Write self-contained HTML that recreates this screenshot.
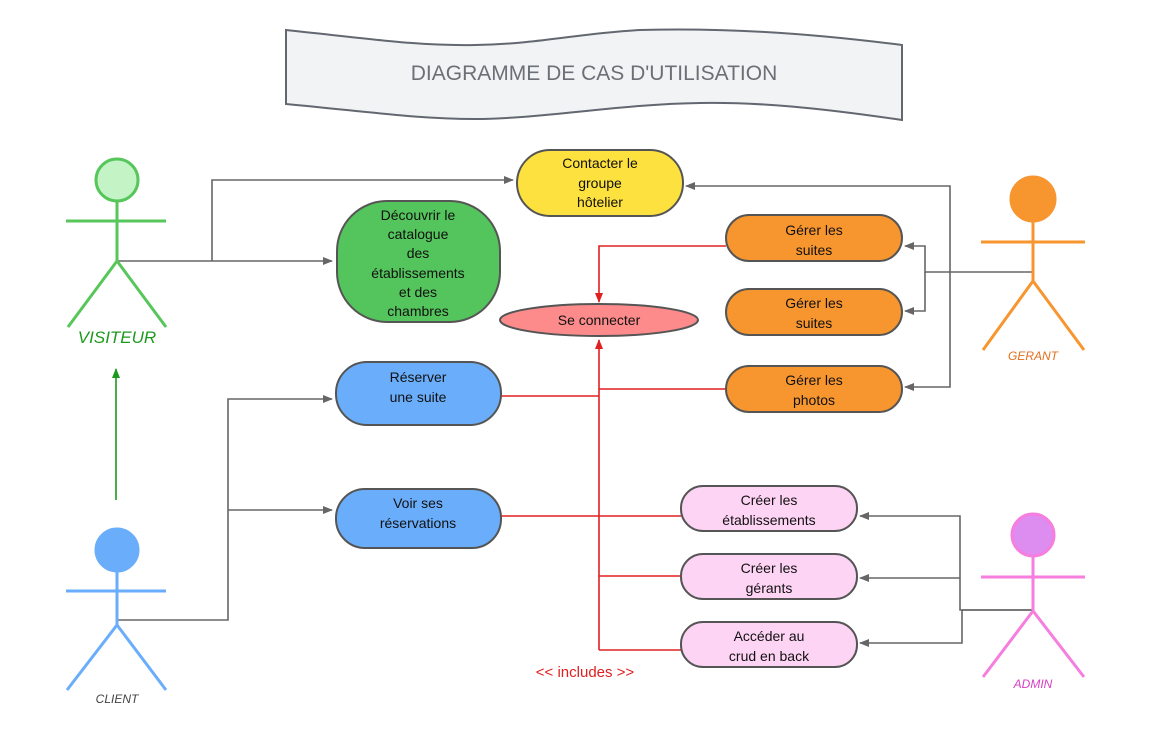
<!DOCTYPE html>
<html><head><meta charset="utf-8"><style>
html,body{margin:0;padding:0;background:#fff;}
svg{display:block;font-family:"Liberation Sans",Arial,sans-serif;}
</style></head><body>
<svg width="1171" height="749" viewBox="0 0 1171 749" xmlns="http://www.w3.org/2000/svg">
<defs>
<marker id="ag" markerWidth="10" markerHeight="10" refX="9" refY="5" orient="auto" markerUnits="userSpaceOnUse"><path d="M0,1 L10,5 L0,9 Z" fill="#666"/></marker>
<marker id="ar" markerWidth="10" markerHeight="10" refX="9" refY="5" orient="auto" markerUnits="userSpaceOnUse"><path d="M0,1 L10,5 L0,9 Z" fill="#e02020"/></marker>
<marker id="agr" markerWidth="10" markerHeight="10" refX="9" refY="5" orient="auto" markerUnits="userSpaceOnUse"><path d="M0,1 L10,5 L0,9 Z" fill="#1d9a1d"/></marker>
</defs>
<path d="M286,30 C380,40 420,46 475,45 C540,44 580,33 640,30 C720,28 800,32 902,45 L902,120 C820,108 760,102 700,103 C620,104 540,119 475,119 C420,119 380,113 286,104 Z" fill="#f2f3f5" stroke="#636770" stroke-width="2"/>
<text x="594" y="80" text-anchor="middle" font-size="21" fill="#6b6f76">DIAGRAMME DE CAS D'UTILISATION</text>

<g fill="none" stroke="#666" stroke-width="1.6">
<path d="M117,261 H332" marker-end="url(#ag)"/>
<path d="M212,261 V180 H513" marker-end="url(#ag)"/>
<path d="M1033,272 H950 V186 H686" marker-end="url(#ag)"/>
<path d="M950,272 H925 V246 H905" marker-end="url(#ag)"/>
<path d="M925,272 V311 H905" marker-end="url(#ag)"/>
<path d="M950,272 V387 H905" marker-end="url(#ag)"/>
<path d="M117,620 H228 V399 H332" marker-end="url(#ag)"/>
<path d="M228,510 H332" marker-end="url(#ag)"/>
<path d="M1033,610 H960 V516 H860" marker-end="url(#ag)"/>
<path d="M960,578 H860" marker-end="url(#ag)"/>
<path d="M1033,610 H962 V643 H860" marker-end="url(#ag)"/>
</g>
<g fill="none" stroke="#e02020" stroke-width="1.6">
<path d="M726,246 H599 V302" marker-end="url(#ar)"/>
<path d="M599,650 V340" marker-end="url(#ar)"/>
<path d="M501,396 H599"/>
<path d="M726,389 H599"/>
<path d="M501,516 H681"/>
<path d="M681,576 H599"/>
<path d="M681,650 H599"/>
</g>
<path d="M116,500 V369" stroke="#1d9a1d" stroke-width="1.6" marker-end="url(#agr)"/>

<g stroke="#555" stroke-width="2">
<rect x="517" y="150" width="166" height="66" rx="33" fill="#fde13f"/>
<rect x="337" y="201" width="163" height="121" rx="50" fill="#54c45c"/>
<rect x="726" y="215" width="176" height="46" rx="23" fill="#f7952f"/>
<rect x="726" y="289" width="176" height="46" rx="23" fill="#f7952f"/>
<rect x="726" y="366" width="176" height="46" rx="23" fill="#f7952f"/>
<ellipse cx="599" cy="320" rx="99" ry="16" fill="#fd8b8b"/>
<rect x="336" y="362" width="165" height="63" rx="31" fill="#6aaefb"/>
<rect x="336" y="489" width="165" height="59" rx="29" fill="#6aaefb"/>
<rect x="681" y="486" width="176" height="45" rx="22" fill="#fed4f5"/>
<rect x="681" y="554" width="176" height="45" rx="22" fill="#fed4f5"/>
<rect x="681" y="622" width="176" height="45" rx="22" fill="#fed4f5"/>
</g>
<g font-size="14" fill="#111" text-anchor="middle">
<text x="600" y="168">Contacter le</text><text x="600" y="188">groupe</text><text x="600" y="207">hôtelier</text>
<text x="418" y="220">Découvrir le</text><text x="418" y="239">catalogue</text><text x="418" y="258">des</text><text x="418" y="278">établissements</text><text x="418" y="297">et des</text><text x="418" y="316">chambres</text>
<text x="814" y="235">Gérer les</text><text x="814" y="255">suites</text>
<text x="814" y="308">Gérer les</text><text x="814" y="328">suites</text>
<text x="814" y="385">Gérer les</text><text x="814" y="405">photos</text>
<text x="599" y="325">Se connecter</text>
<text x="418" y="382">Réserver</text><text x="418" y="402">une suite</text>
<text x="418" y="508">Voir ses</text><text x="418" y="528">réservations</text>
<text x="769" y="505">Créer les</text><text x="769" y="525">établissements</text>
<text x="769" y="573">Créer les</text><text x="769" y="593">gérants</text>
<text x="769" y="641">Accéder au</text><text x="769" y="661">crud en back</text>
</g>
<text x="585" y="677" text-anchor="middle" font-size="15" fill="#e02020">&lt;&lt; includes &gt;&gt;</text>

<g fill="none" stroke-width="3">
<g stroke="#57c65b"><circle cx="117" cy="180" r="21" fill="#c4f3c6"/><path d="M117,201 V261 M66,221 H166 M68,327 L117,261 L166,327"/></g>
<g stroke="#6aaefb"><circle cx="117" cy="550" r="21" fill="#6aaefb"/><path d="M117,571 V625 M66,591 H166 M67,690 L117,625 L166,690"/></g>
<g stroke="#f7952f"><circle cx="1033" cy="199" r="22" fill="#f7952f"/><path d="M1033,221 V281 M981,242 H1085 M983,350 L1033,281 L1084,350"/></g>
<g stroke="#f57ede"><circle cx="1033" cy="535" r="21" fill="#dd8cf0"/><path d="M1033,556 V611 M981,577 H1085 M983,677 L1033,611 L1084,677"/></g>
</g>
<g font-style="italic" text-anchor="middle">
<text x="117" y="343" font-size="17" fill="#1d9a1d">VISITEUR</text>
<text x="117" y="703" font-size="12" fill="#444">CLIENT</text>
<text x="1033" y="360" font-size="12" fill="#e0701d">GERANT</text>
<text x="1033" y="688" font-size="12" fill="#d83ec3">ADMIN</text>
</g>
</svg>
</body></html>
